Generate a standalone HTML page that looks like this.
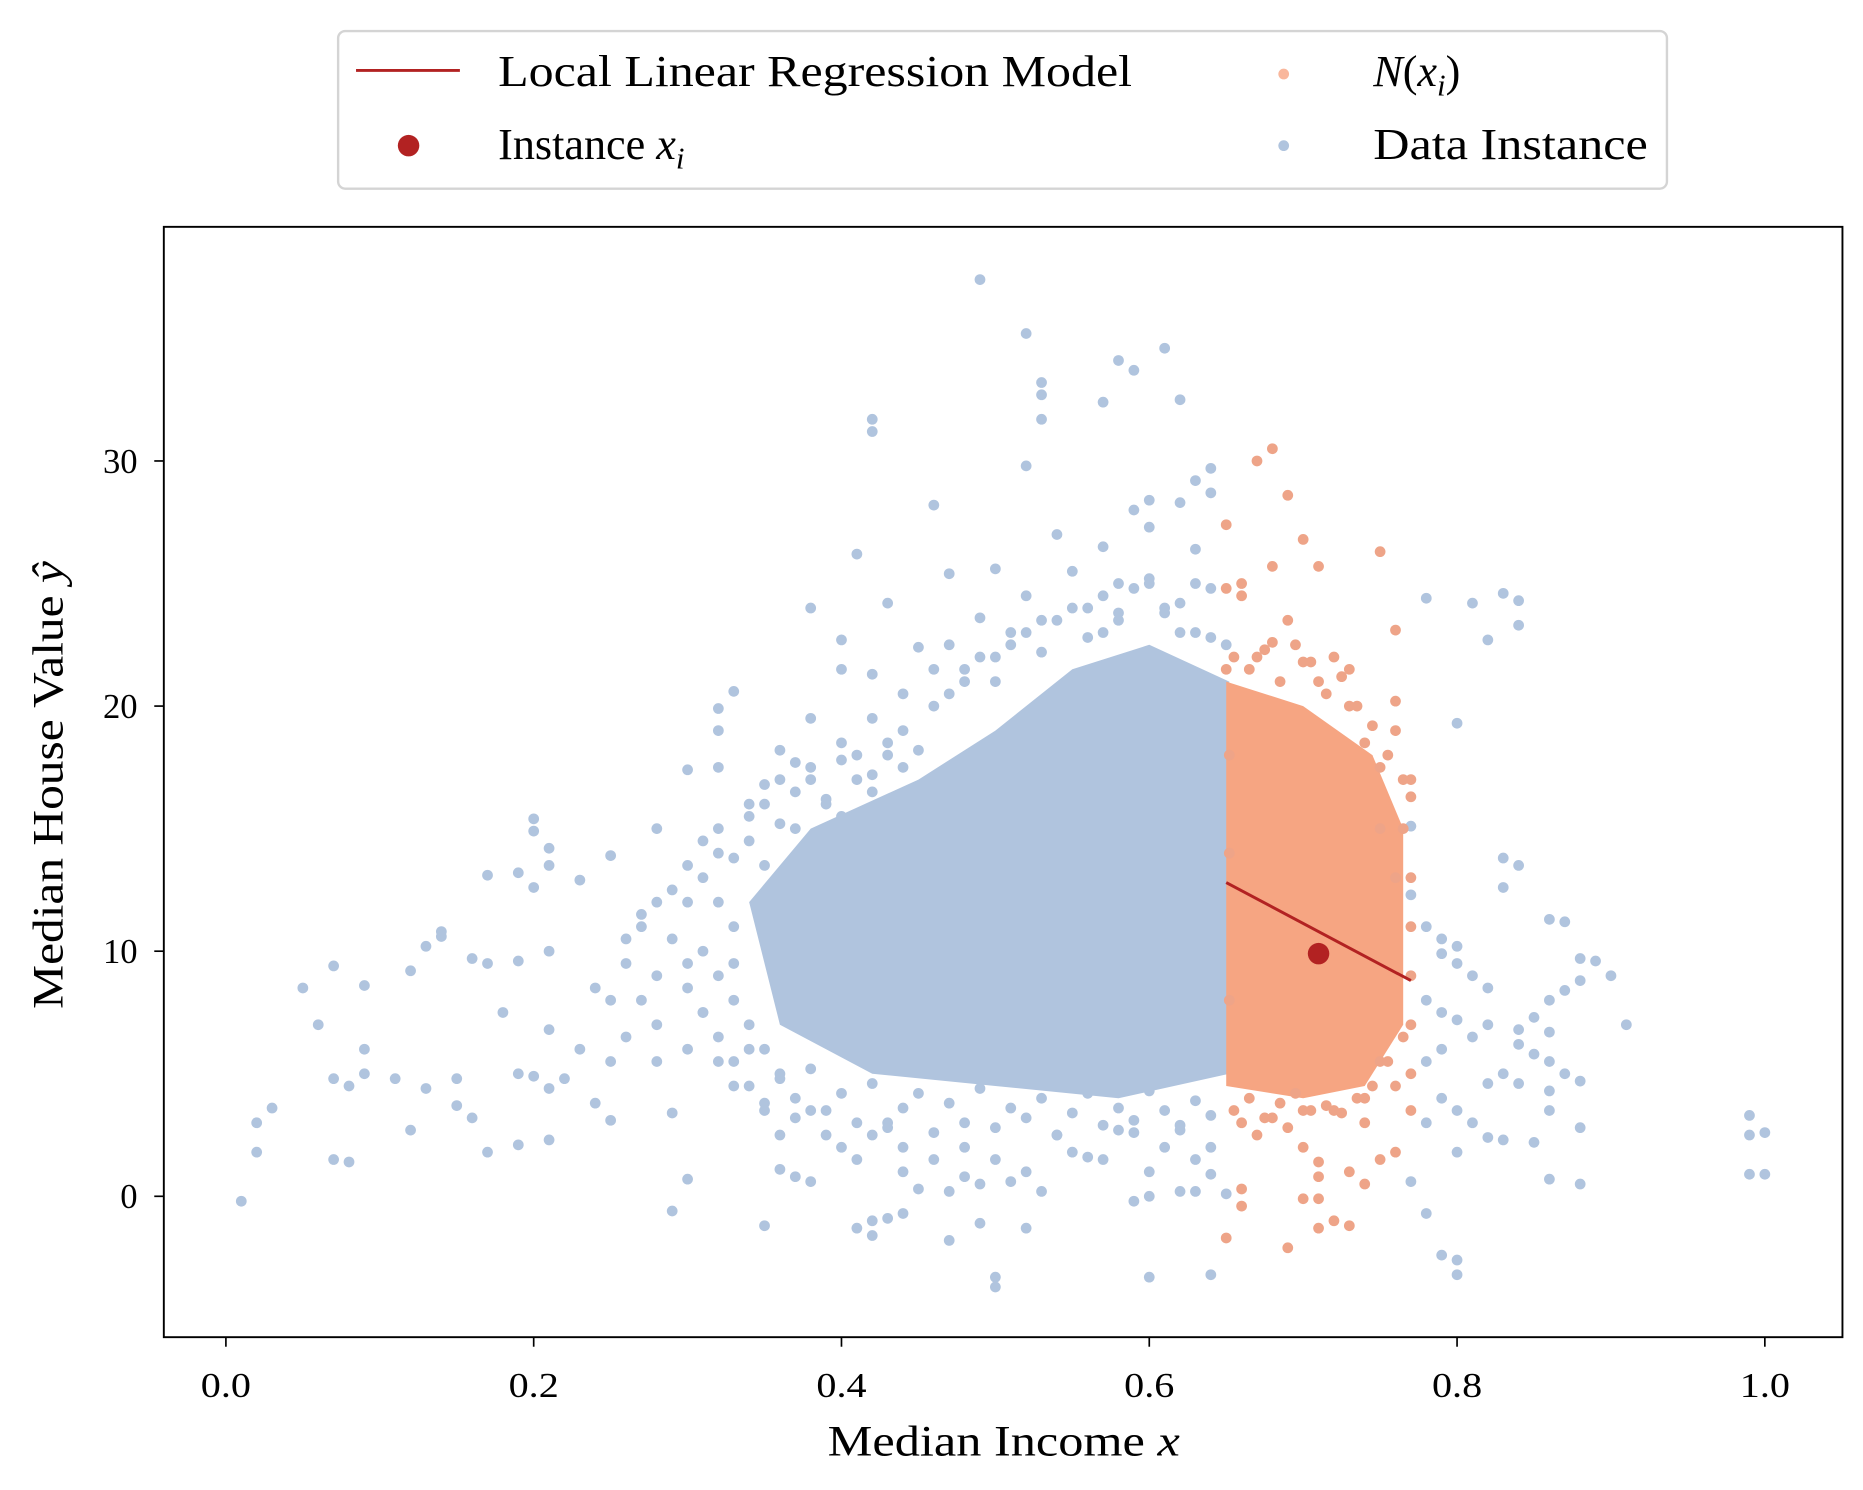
<!DOCTYPE html>
<html><head><meta charset="utf-8"><style>
html,body{margin:0;padding:0;background:#fff}
svg{display:block}
text{font-family:"Liberation Serif",serif;fill:#000}
</style></head><body>
<svg id="chart" width="1863" height="1490" viewBox="0 0 1560 1248" xmlns="http://www.w3.org/2000/svg">
<rect x="0" y="0" width="1560" height="1248" fill="#fff"/>
<g id="plot"></g>
<rect x="137" y="190" width="1406" height="930" fill="none" stroke="#000" stroke-width="1.6"/>
<g id="ticks"></g>
<text x="693" y="1219" font-size="36" textLength="295" lengthAdjust="spacingAndGlyphs">Median Income <tspan font-style="italic">x</tspan></text>
<text transform="translate(52,845) rotate(-90)" font-size="36" textLength="375" lengthAdjust="spacingAndGlyphs">Median House Value <tspan font-style="italic">ŷ</tspan></text>
<g>
<rect x="283" y="26" width="1113" height="132" rx="6" fill="#fff" stroke="#d4d4d4" stroke-width="2"/>
<line x1="298" y1="59" x2="385" y2="59" stroke="#b22222" stroke-width="2.5"/>
<text x="417" y="72" font-size="37" textLength="531" lengthAdjust="spacingAndGlyphs">Local Linear Regression Model</text>
<circle cx="342" cy="122" r="9" fill="#b22222"/>
<text x="417" y="133" font-size="37">Instance <tspan font-style="italic">x</tspan><tspan font-style="italic" font-size="26" dy="8">i</tspan></text>
<circle cx="1075" cy="62" r="4.5" fill="#f9b79c"/>
<text x="1150" y="72" font-size="37"><tspan font-style="italic">N</tspan>(<tspan font-style="italic">x</tspan><tspan font-style="italic" font-size="26" dy="8">i</tspan><tspan dy="-8">)</tspan></text>
<circle cx="1075" cy="122" r="4.5" fill="#b0c4de"/>
<text x="1150" y="133" font-size="37" textLength="230" lengthAdjust="spacingAndGlyphs">Data Instance</text>
</g>
</svg>
<script>
const xTicks=[0.0,0.2,0.4,0.6,0.8,1.0];
const xTickLabels=["0.0","0.2","0.4","0.6","0.8","1.0"];
const yTicks=[0,10,20,30];
const yTickLabels=["0","10","20","30"];
const blueDense=[[0.36,7],[0.42,5],[0.5,4.5],[0.58,4],[0.652,5],[0.652,21],[0.6,22.5],[0.55,21.5],[0.5,19],[0.45,17],[0.38,15],[0.34,12]];
const orangeDense=[[0.65,4.5],[0.7,4],[0.74,4.5],[0.765,7],[0.765,15],[0.745,18],[0.7,20],[0.65,21]];
const blueX=[0.49,0.52,0.61,0.58,0.59,0.53,0.53,0.62,0.57,0.53,0.42,0.42,0.52,0.64,0.63,0.64,0.60,0.46,0.59,0.62,0.41,0.54,0.60,0.57,0.63,0.47,0.50,0.58,0.60,0.64,0.38,0.43,0.49,0.45,0.40,0.40,0.42,0.33,0.32,0.38,0.32,0.36,0.37,0.30,0.32,0.35,0.28,0.20,0.20,0.21,0.25,0.21,0.23,0.19,0.17,0.20,0.14,0.14,0.13,0.16,0.17,0.21,0.19,0.12,0.09,0.05,0.07,0.06,0.18,0.21,0.09,0.13,0.15,0.07,0.08,0.09,0.11,0.02,0.03,0.02,0.07,0.08,0.12,0.15,0.16,0.17,0.19,0.21,0.19,0.20,0.21,0.22,0.24,0.25,0.01,0.23,0.24,0.25,0.26,0.27,0.28,0.29,0.28,0.30,0.29,0.30,0.29,0.35,0.36,0.37,0.38,0.41,0.42,0.42,0.43,0.44,0.47,0.49,0.50,0.50,0.52,0.60,0.64,0.59,0.60,0.62,0.63,0.64,0.65,0.45,0.47,0.48,0.49,0.51,0.53,0.55,0.56,0.58,0.59,0.62,0.63,
0.78,0.81,0.82,0.83,0.84,0.84,0.80,0.77,0.77,0.83,0.84,0.83,0.78,0.79,0.80,0.79,0.80,0.81,0.82,0.78,0.79,0.80,0.82,0.84,0.86,0.86,0.87,0.88,0.89,0.90,0.88,0.87,0.86,0.85,0.84,0.85,0.86,0.83,0.82,0.84,0.86,0.87,0.88,0.91,0.79,0.80,0.81,0.82,0.83,0.78,0.80,0.85,0.86,0.86,0.88,0.88,0.78,0.79,0.80,0.80,0.99,0.99,1.00,0.99,1.00,0.77,0.78,0.79,0.81,
0.31,0.32,0.33,0.34,0.35,0.36,0.37,0.38,0.39,0.40,0.41,0.42,0.43,0.44,0.31,0.32,0.33,0.34,0.35,0.36,0.37,0.38,0.39,0.40,0.41,0.42,0.43,0.44,0.30,0.31,0.32,0.33,0.34,0.35,0.36,0.27,0.28,0.26,0.27,0.26,0.25,0.28,0.29,0.30,0.32,0.34,0.36,0.38,0.40,0.42,0.44,0.46,0.47,0.48,0.50,0.51,0.52,0.53,0.55,0.56,0.57,0.58,0.61,0.62,0.63,0.65,0.44,0.46,0.48,0.50,0.52,0.54,0.57,0.60,0.61,0.64,0.33,0.35,0.37,0.39,0.41,0.43,0.45,
0.30,0.31,0.32,0.33,0.34,0.35,0.36,0.37,0.38,0.39,0.40,0.41,0.42,0.43,0.44,0.45,0.46,0.47,0.48,0.49,0.50,0.51,0.52,0.53,0.54,0.55,0.56,0.57,0.58,0.59,0.60,0.61,0.62,0.63,0.64,
0.30,0.31,0.32,0.33,0.34,0.35,0.36,0.37,0.38,0.39,0.40,0.41,0.42,0.43,0.44,0.45,0.46,0.47,0.48,0.49,0.50,0.51,0.52,0.53,0.54,0.55,0.56,0.57,0.58,0.59,0.60,0.61,0.62,0.63,0.64];
const blueY=[37.4,35.2,34.6,34.1,33.7,33.2,32.7,32.5,32.4,31.7,31.7,31.2,29.8,29.7,29.2,28.7,28.4,28.2,28.0,28.3,26.2,27.0,27.3,26.5,26.4,25.4,25.6,25.0,25.2,24.8,24.0,24.2,23.6,22.4,22.7,21.5,21.3,20.6,19.9,19.5,19.0,18.2,17.7,17.4,17.5,16.8,15.0,15.4,14.9,14.2,13.9,13.5,12.9,13.2,13.1,12.6,10.8,10.6,10.2,9.7,9.5,10.0,9.6,9.2,8.6,8.5,9.4,7.0,7.5,6.8,6.0,4.4,4.8,4.8,4.5,5.0,4.8,3.0,3.6,1.8,1.5,1.4,2.7,3.7,3.2,1.8,2.1,2.3,5.0,4.9,4.4,4.8,3.8,3.1,-0.2,6.0,8.5,8.0,10.5,11.5,9.0,12.5,7.0,6.0,3.4,0.7,-0.6,-1.2,1.1,0.8,0.6,-1.3,-1.0,-1.6,-0.9,-0.7,-1.8,-1.1,-3.3,-3.7,-1.3,-3.3,-3.2,-0.2,0.0,0.2,0.2,0.9,0.1,0.3,0.2,0.8,0.5,0.6,0.2,1.8,1.6,2.7,2.6,2.9,1.5,
24.4,24.2,22.7,24.6,24.3,23.3,19.3,15.1,12.3,13.8,13.5,12.6,11.0,10.5,10.2,9.9,9.5,9.0,8.5,8.0,7.5,7.2,7.0,6.8,6.7,11.3,11.2,9.7,9.6,9.0,8.8,8.4,8.0,7.3,6.2,5.8,5.5,5.0,4.6,4.6,4.3,5.0,4.7,7.0,4.0,3.5,3.0,2.4,2.3,3.0,1.8,2.2,3.5,0.7,0.5,2.8,-0.7,-2.4,-2.6,-3.2,3.3,2.5,2.6,0.9,0.9,0.6,5.5,6.0,6.5,
13.0,12.0,11.0,14.5,13.5,12.5,15.0,14.0,16.0,15.5,17.0,16.5,18.0,17.5,10.0,9.0,8.0,7.0,6.0,5.0,4.0,3.5,2.5,2.0,1.5,2.5,3.0,2.0,8.5,7.5,6.5,5.5,4.5,3.5,2.5,11.0,12.0,9.5,8.0,6.5,5.5,5.5,10.5,12.0,14.0,16.0,17.0,17.5,18.5,19.5,20.5,21.5,22.5,21.0,22.0,23.0,24.5,23.5,25.5,24.0,23.0,23.8,24.0,23.0,25.0,22.5,1.0,1.5,2.0,1.5,1.0,2.5,1.5,1.0,2.0,2.0,9.5,11.0,10.0,11.5,12.5,14.0,15.0,
13.5,14.5,15,13.8,15.5,16,15.2,16.5,17,16.2,17.8,18,17.2,18.5,19,18.2,20,20.5,21.5,22,21,22.5,23,22.2,23.5,24,22.8,24.5,23.5,24.8,25,23.8,24.2,23,22.8,
9.5,7.5,5.5,4.5,6,3.8,4.8,3.2,5.2,3.5,4.2,3,4.6,2.8,3.6,4.2,2.6,3.8,3,4.4,2.8,3.6,3.2,4,2.5,3.4,4.2,2.9,3.6,3.1,4.3,3.5,2.7,3.9,3.3];
const orangeX=[0.65,0.67,0.68,0.69,0.70,0.71,0.66,0.68,0.66,0.65,0.75,0.76,0.69,0.72,0.73,0.76,0.76,0.77,0.77,0.75,0.76,0.77,0.77,0.76,0.77,0.76,0.75,0.74,0.73,0.72,0.71,0.71,0.70,0.69,0.65,0.66,0.66,0.71,0.71,0.70,0.74,0.73,0.66,0.67,0.68,0.69,0.70,0.72,0.74,0.75,0.65,0.67,0.68,0.70,0.71,0.73,0.74,0.75,
0.655,0.665,0.675,0.685,0.695,0.705,0.715,0.725,0.735,0.745,0.755,0.765,
0.655,0.665,0.675,0.685,0.695,0.705,0.715,0.725,0.735,0.745,0.755,0.765,
0.77,0.77,0.765,0.77,0.652,0.652,0.652];
const orangeY=[27.4,30.0,30.5,28.6,26.8,25.7,25.0,25.7,24.5,24.8,26.3,23.1,23.5,22.0,21.5,20.2,19.0,17.0,16.3,15.0,13.0,11.0,7.0,4.5,3.5,1.8,1.5,3.0,-1.2,-1.0,-1.3,-0.1,-0.1,-2.1,-1.7,-0.4,0.3,1.4,0.8,2.0,0.5,1.0,3.0,2.5,3.2,2.8,3.5,3.5,4.0,5.5,21.5,22.0,22.6,21.8,21.0,20.0,18.5,17.5,
22,21.5,22.3,21,22.5,21.8,20.5,21.2,20,19.2,18,17,
3.5,4,3.2,3.8,4.2,3.5,3.7,3.4,4,4.5,5.5,6.5,
9,13,15,5,8,14,18];
const instanceX=[0.71];
const instanceY=[9.9];
const modelX=[0.65,0.77];
const modelY=[12.8,8.8];

const NS="http://www.w3.org/2000/svg";
const sx=v=>189+v*1289;
const sy=v=>1002-v*20.53;
const plot=document.getElementById('plot');
const ticks=document.getElementById('ticks');
function mk(tag,attrs,parent){const e=document.createElementNS(NS,tag);for(const k in attrs)e.setAttribute(k,attrs[k]);parent.appendChild(e);return e;}

let p=mk('polygon',{points:blueDense.map(d=>sx(d[0])+','+sy(d[1])).join(' '),fill:'#b0c4de'},plot);


for(let i=0;i<blueX.length;i++){
  const c=mk('circle',{cx:sx(blueX[i]),cy:sy(blueY[i]),r:4.5,fill:'#b0c4de'},plot);
  
  
}
p=mk('polygon',{points:orangeDense.map(d=>sx(d[0])+','+sy(d[1])).join(' '),fill:'#f6a582'},plot);


for(let i=0;i<orangeX.length;i++){
  const c=mk('circle',{cx:sx(orangeX[i]),cy:sy(orangeY[i]),r:4.5,fill:'#eea488'},plot);
  
  
}
const ln=mk('line',{x1:sx(modelX[0]),y1:sy(modelY[0]),x2:sx(modelX[1]),y2:sy(modelY[1]),stroke:'#b22222','stroke-width':2.5},plot);


for(let i=0;i<instanceX.length;i++){
  const c=mk('circle',{cx:sx(instanceX[i]),cy:sy(instanceY[i]),r:9,fill:'#b22222'},plot);
  
  
}
for(let i=0;i<xTicks.length;i++){
  const x=sx(xTicks[i]);
  const t=mk('line',{x1:x,y1:1120,x2:x,y2:1128,stroke:'#000','stroke-width':1.4},ticks);
  
  
  const l=mk('text',{x:x-21,y:1170,'font-size':29,textLength:42,lengthAdjust:'spacingAndGlyphs'},ticks);
  l.textContent=xTickLabels[i];
  
  
}
for(let i=0;i<yTicks.length;i++){
  const y=sy(yTicks[i]);
  const t=mk('line',{x1:129,y1:y,x2:137,y2:y,stroke:'#000','stroke-width':1.4},ticks);
  
  
  const l=mk('text',{x:115,y:y+10,'font-size':29,'text-anchor':'end'},ticks);
  l.textContent=yTickLabels[i];
  
  
}
</script>
</body></html>
